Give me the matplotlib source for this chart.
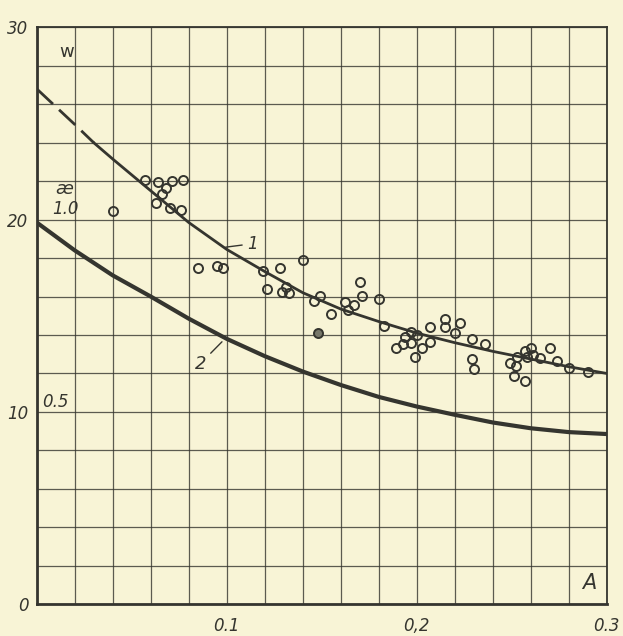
import numpy as np
import matplotlib
matplotlib.use("Agg")
import matplotlib.pyplot as plt

# curve 1 (upper), dashed up to A = 0.03
a1 = [0.0, 0.02, 0.03, 0.04, 0.06, 0.08, 0.10, 0.12, 0.14, 0.16, 0.18, 0.20, 0.22, 0.24, 0.26, 0.28, 0.30]
w1 = [26.8, 24.95, 24.0, 23.15, 21.5, 19.85, 18.45, 17.3, 16.2, 15.35, 14.7, 14.1, 13.6, 13.15, 12.75, 12.35, 12.0]
n_dash = 3

# curve 2 (lower)
a2 = [0.0, 0.02, 0.04, 0.06, 0.08, 0.10, 0.12, 0.14, 0.16, 0.18, 0.20, 0.22, 0.24, 0.26, 0.28, 0.30]
w2 = [19.85, 18.4, 17.1, 16.0, 14.85, 13.8, 12.9, 12.1, 11.4, 10.78, 10.28, 9.85, 9.45, 9.15, 8.95, 8.85]

# experimental points (open circles)
pts_a = [0.040, 0.057, 0.064, 0.071, 0.077, 0.068, 0.066, 0.063, 0.070, 0.076,
         0.085, 0.095, 0.098, 0.119, 0.128, 0.140, 0.121, 0.129, 0.131, 0.133,
         0.146, 0.149, 0.155, 0.170, 0.171, 0.180, 0.162, 0.164, 0.167, 0.183,
         0.189, 0.193, 0.197, 0.194, 0.197, 0.200, 0.203, 0.207, 0.207, 0.199,
         0.215, 0.215, 0.220, 0.223,
         0.229, 0.236, 0.229, 0.230, 0.249, 0.252, 0.253, 0.257, 0.258, 0.260,
         0.261, 0.265, 0.270, 0.274, 0.280, 0.290, 0.251, 0.257]
pts_w = [20.45, 22.05, 21.95, 22.0, 22.05, 21.65, 21.35, 20.85, 20.6, 20.5,
         17.5, 17.6, 17.5, 17.35, 17.5, 17.9, 16.4, 16.25, 16.5, 16.2,
         15.75, 16.05, 15.1, 16.75, 16.05, 15.85, 15.7, 15.3, 15.55, 14.45,
         13.35, 13.55, 13.6, 13.9, 14.15, 14.0, 13.3, 13.65, 14.4, 12.85,
         14.85, 14.4, 14.1, 14.6,
         13.8, 13.55, 12.75, 12.25, 12.55, 12.4, 12.85, 13.15, 12.85, 13.35,
         12.95, 12.8, 13.3, 12.65, 12.3, 12.1, 11.85, 11.6]
# one darker point
dark_a = [0.148]
dark_w = [14.1]

paper = '#f8f4d6'
ink = '#35352f'

fig = plt.figure(figsize=(6.23, 6.36), dpi=100, facecolor=paper)
ax = fig.add_axes([0.059, 0.050, 0.915, 0.907], facecolor=paper)
ax.set_xlim(0, 0.3)
ax.set_ylim(0, 30)

ax.set_xticks(np.arange(0, 0.301, 0.02), minor=True)
ax.set_yticks(np.arange(0, 30.1, 2), minor=True)
ax.set_xticks([0.1, 0.2, 0.3])
ax.set_xticklabels(['0.1', '0,2', '0.3'])
ax.set_yticks([0, 10, 20, 30])
ax.set_yticklabels(['0', '10', '20', '30'])
ax.grid(True, which='both', color=ink, lw=0.9, alpha=0.8)
ax.tick_params(which='both', length=0, labelsize=12, colors=ink)
ax.tick_params(axis='x', pad=9)
ax.tick_params(axis='y', pad=6)
for lab in ax.get_xticklabels() + ax.get_yticklabels():
    lab.set_style('italic')
for side, lw in [('left', 2.0), ('bottom', 2.0), ('top', 1.3), ('right', 1.3)]:
    ax.spines[side].set_color(ink)
    ax.spines[side].set_linewidth(lw)

ax.plot(a1[:n_dash], w1[:n_dash], color=ink, lw=2.0, dashes=(8, 3), zorder=3)
ax.plot(a1[n_dash - 1:], w1[n_dash - 1:], color=ink, lw=2.0, zorder=3)
ax.plot(a2, w2, color=ink, lw=3.0, zorder=3)

ax.plot(pts_a, pts_w, 'o', ms=6.5, mfc='none', mec=ink, mew=1.4, zorder=4)
ax.plot(dark_a, dark_w, 'o', ms=6.5, mfc='#77776a', mec=ink, mew=1.4, zorder=4)

# curve labels with leader lines
ax.annotate('1', xy=(0.098, 18.55), xytext=(0.111, 18.75), fontsize=12, style='italic',
            color=ink, va='center', arrowprops=dict(arrowstyle='-', color=ink, lw=1.0))
ax.annotate('2', xy=(0.0985, 13.75), xytext=(0.083, 12.5), fontsize=13, style='italic',
            color=ink, va='center', arrowprops=dict(arrowstyle='-', color=ink, lw=1.0))

# inner labels
ax.text(0.012, 28.7, 'w', fontsize=13, color=ink, va='center')
ax.text(0.010, 21.6, 'ӕ', fontsize=13, style='italic', color=ink, va='center')
ax.text(0.008, 20.55, '1.0', fontsize=12, style='italic', color=ink, va='center')
ax.text(0.003, 10.5, '0.5', fontsize=12, style='italic', color=ink, va='center')
ax.text(0.287, 1.1, 'А', fontsize=15, style='italic', color=ink, va='center')

fig.savefig('out.png', dpi=100, facecolor=paper)
